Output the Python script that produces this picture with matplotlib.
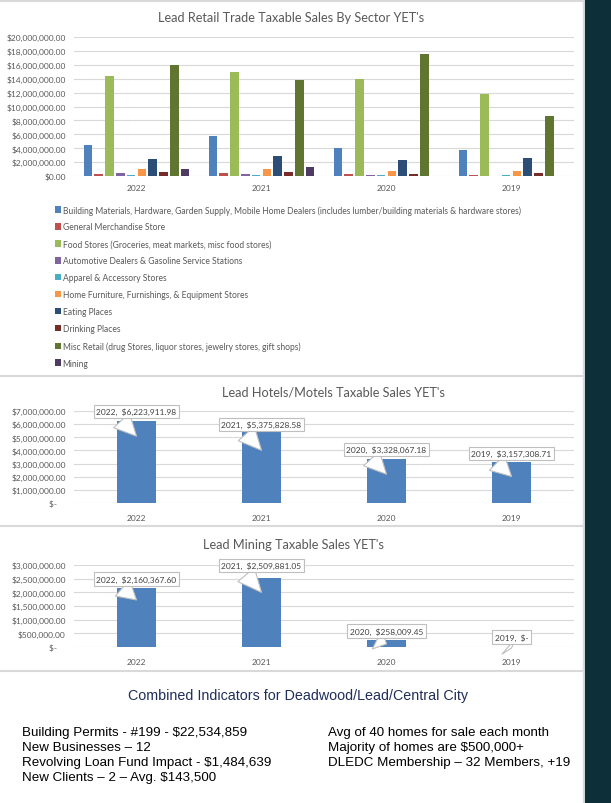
import matplotlib
matplotlib.use('Agg')
import matplotlib.pyplot as plt
import numpy as np
from matplotlib.ticker import FuncFormatter, MultipleLocator
from matplotlib.patches import Rectangle
from matplotlib.lines import Line2D
from matplotlib.transforms import offset_copy

plt.rcParams['font.family'] = ['Lato', 'DejaVu Sans']

# ---------------- data ----------------
years = ['2022', '2021', '2020', '2019']

sector_names = [
    'Building Materials, Hardware, Garden Supply, Mobile Home Dealers (includes lumber/building materials & hardware stores)',
    'General Merchandise Store',
    'Food Stores (Groceries, meat markets, misc food stores)',
    'Automotive Dealers & Gasoline Service Stations',
    'Apparel & Accessory Stores',
    'Home Furniture, Furnishings, & Equipment Stores',
    'Eating Places',
    'Drinking Places',
    'Misc Retail (drug Stores, liquor stores, jewelry stores, gift shops)',
    'Mining',
]
building_materials = [4400000, 5700000, 4100000, 3700000]
general_merchandise = [340000, 400000, 340000, 180000]
food_stores = [14400000, 14900000, 14000000, 11800000]
automotive = [400000, 300000, 120000, 0]
apparel = [180000, 180000, 180000, 150000]
home_furniture = [970000, 1070000, 770000, 770000]
eating_places = [2500000, 2900000, 2370000, 2600000]
drinking_places = [530000, 580000, 300000, 440000]
misc_retail = [16000000, 13800000, 17600000, 8700000]
mining_retail = [1000000, 1360000, 0, 0]

retail_series = [building_materials, general_merchandise, food_stores, automotive,
                 apparel, home_furniture, eating_places, drinking_places,
                 misc_retail, mining_retail]

hotel_sales = [6223911.98, 5375828.58, 3328067.18, 3157308.71]
mining_sales = [2160367.60, 2509881.05, 258009.45, 0.0]

# ---------------- style ----------------
colors = ['#4F81BD', '#C0504D', '#9BBB59', '#8064A2', '#4BACC6',
          '#F79646', '#2C4D75', '#772C2A', '#5F7530', '#4D3B62']
GRAY = '#595959'
GRID = '#d9d9d9'
W, H = 611, 804

fig = plt.figure(figsize=(W / 100, H / 100), dpi=100)
fig.patch.set_facecolor('white')


def rect(l, t, r, b):
    return [l / W, 1 - b / H, (r - l) / W, (b - t) / H]


def fx(x):
    return x / W


def fy(y):
    return 1 - y / H


# page decorations
fig.patches.append(Rectangle((fx(585), 0), fx(26), 1, transform=fig.transFigure,
                             color='#0c2f3a', zorder=0))
for yy in [2, 377, 527, 672]:
    fig.lines.append(Line2D([0, fx(583)], [fy(yy), fy(yy)], transform=fig.transFigure,
                            color=GRID, lw=1.5))
fig.lines.append(Line2D([fx(583), fx(583)], [0, 1], transform=fig.transFigure,
                        color=GRID, lw=1.0))


def money(v, pos):
    return '${:,.2f}'.format(v)


def money_acct(v, pos):
    if abs(v) < 1e-6:
        return '$-    '
    return '${:,.2f}'.format(v)


def style_axis(ax, pad_x):
    for s in ax.spines.values():
        s.set_visible(False)
    ax.yaxis.grid(True, color=GRID, lw=0.8)
    ax.set_axisbelow(True)
    ax.tick_params(axis='both', length=0, labelsize=6, colors=GRAY)
    ax.tick_params(axis='x', pad=pad_x)
    ax.tick_params(axis='y', pad=6)
    ax.set_xlim(-0.5, 3.5)


# ---------------- top chart ----------------
ax1 = fig.add_axes(rect(74, 38, 574, 177))
slot = 0.0864
bw = 0.07
x = np.arange(len(years))
handles = []
for j, (vals, name) in enumerate(zip(retail_series, sector_names)):
    h = ax1.bar(x + (j - 4.5) * slot, vals, width=bw, color=colors[j], label=name)
    handles.append(h)
ax1.set_ylim(0, 20000000)
ax1.yaxis.set_major_locator(MultipleLocator(2000000))
ax1.yaxis.set_major_formatter(FuncFormatter(money))
ax1.set_xticks(x)
ax1.set_xticklabels(years)
style_axis(ax1, 6)
fig.text(fx(291), fy(18), "Lead Retail Trade Taxable Sales By Sector YET's",
         ha='center', va='center', fontsize=9.2, color=GRAY)

leg = fig.legend(handles, sector_names, loc='upper left',
                 bbox_to_anchor=(fx(55), fy(206)), frameon=False, fontsize=6.15,
                 handlelength=0.75, handleheight=0.75, handletextpad=0.15,
                 labelspacing=0.93, borderpad=0, borderaxespad=0)
for t in leg.get_texts():
    t.set_color(GRAY)


def callouts(ax, values, rises, drops):
    for i, v in enumerate(values):
        if abs(v) < 1e-6:
            lab = '{},  $-'.format(years[i])
        else:
            lab = '{},  ${:,.2f}'.format(years[i], v)
        tip = offset_copy(ax.transData, fig=fig, x=0, y=-drops[i], units='dots')
        ax.annotate(lab, xy=(i, v), xycoords=tip,
                    xytext=(0, drops[i] + rises[i]), textcoords='offset pixels',
                    ha='center', va='center', fontsize=6, color='#404040',
                    bbox=dict(boxstyle='square,pad=0.35', fc='white', ec='#bfbfbf', lw=0.8),
                    arrowprops=dict(arrowstyle='wedge,tail_width=2.6,shrink_factor=0.5',
                                    fc='white', ec='#bfbfbf', lw=0.8,
                                    relpos=(0.25, 0.0), shrinkA=-2, shrinkB=0),
                    annotation_clip=False, zorder=5)


# ---------------- middle chart ----------------
ax2 = fig.add_axes(rect(74, 412, 574, 504))
ax2.bar(x, hotel_sales, width=0.31, color='#4F81BD')
ax2.set_ylim(0, 7000000)
ax2.yaxis.set_major_locator(MultipleLocator(1000000))
ax2.yaxis.set_major_formatter(FuncFormatter(money_acct))
ax2.set_xticks(x)
ax2.set_xticklabels(years)
style_axis(ax2, 8)
callouts(ax2, hotel_sales, [10, 8, 10, 8], [15, 18, 15, 15])
fig.text(fx(333), fy(393), "Lead Hotels/Motels Taxable Sales YET's",
         ha='center', va='center', fontsize=9.2, color=GRAY)

# ---------------- bottom chart ----------------
ax3 = fig.add_axes(rect(74, 566, 574, 648))
ax3.bar(x, mining_sales, width=0.31, color='#4F81BD')
ax3.set_ylim(0, 3000000)
ax3.yaxis.set_major_locator(MultipleLocator(500000))
ax3.yaxis.set_major_formatter(FuncFormatter(money_acct))
ax3.set_xticks(x)
ax3.set_xticklabels(years)
style_axis(ax3, 8)
callouts(ax3, mining_sales, [9, 13, 9, 10], [12, 14, 4, 1])
fig.text(fx(293), fy(545), "Lead Mining Taxable Sales YET's",
         ha='center', va='center', fontsize=9.2, color=GRAY)

# ---------------- bottom text ----------------
NAVY = '#1f2d5a'
fig.text(fx(298), fy(696), 'Combined Indicators for Deadwood/Lead/Central City',
         ha='center', va='center', fontsize=10.3, color=NAVY, family='Liberation Sans')
left_lines = ['Building Permits - #199 - $22,534,859',
              'New Businesses \u2013 12',
              'Revolving Loan Fund Impact - $1,484,639',
              'New Clients \u2013 2 \u2013 Avg. $143,500']
right_lines = ['Avg of 40 homes for sale each month',
               'Majority of homes are $500,000+',
               'DLEDC Membership \u2013 32 Members, +19']
line_y = [733, 748, 763, 778]
for t, yy in zip(left_lines, line_y):
    fig.text(fx(22), fy(yy), t, ha='left', va='center', fontsize=9.6, color='black',
             family='Liberation Sans')
for t, yy in zip(right_lines, line_y):
    fig.text(fx(328), fy(yy), t, ha='left', va='center', fontsize=9.6, color='black',
             family='Liberation Sans')

fig.savefig('out.png', dpi=100)
